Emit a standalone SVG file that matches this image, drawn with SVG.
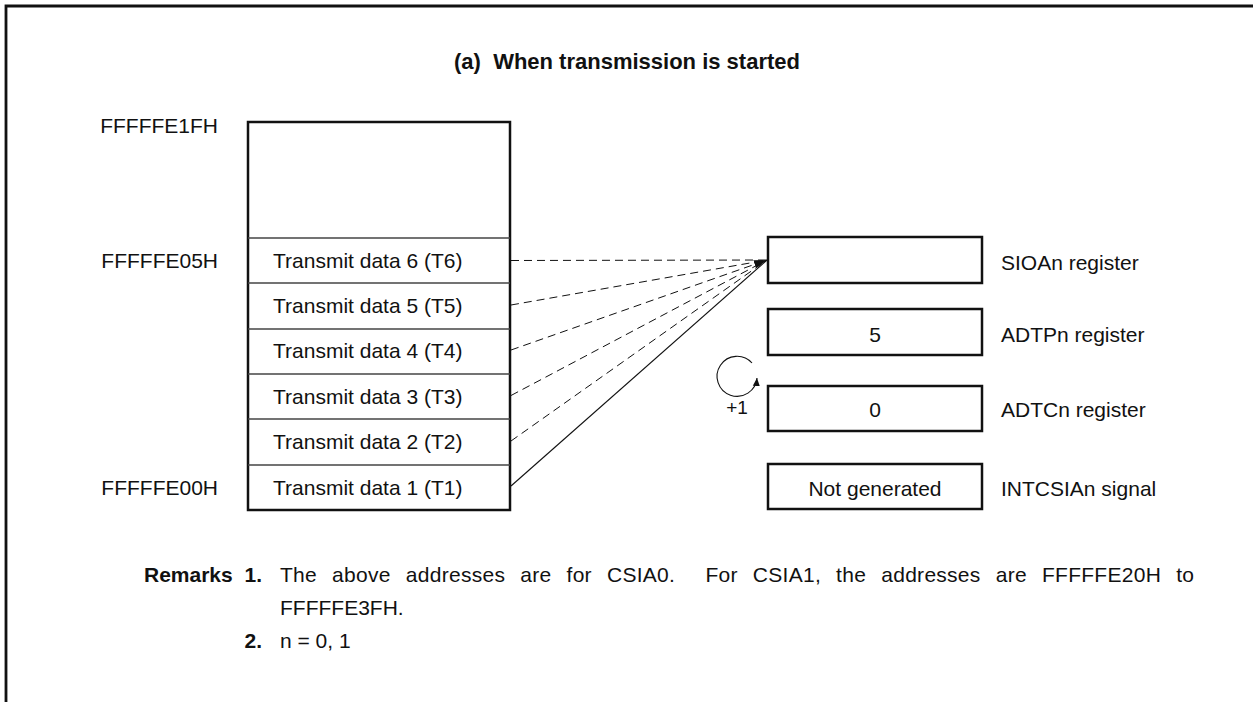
<svg xmlns="http://www.w3.org/2000/svg" width="1253" height="702" viewBox="0 0 1253 702">
<style>
text{font-family:"Liberation Sans",Arial,Helvetica,sans-serif;fill:#111}
.t{font-size:21px}
.r{font-size:21px}
.b{font-weight:bold}
.box{fill:#fff;stroke:#111;stroke-width:2.5}
.div{stroke:#444;stroke-width:1.3}
.dash{stroke:#111;stroke-width:1;stroke-dasharray:8,5;fill:none}
.solid{stroke:#111;stroke-width:1.1;fill:none}
</style>
<defs>
<marker id="ah" markerWidth="14" markerHeight="10" refX="13" refY="5" orient="auto" markerUnits="userSpaceOnUse">
<path d="M0,0.8 L13,5 L0,9.2 Z" fill="#111"/>
</marker>
<marker id="ah2" markerWidth="10" markerHeight="10" refX="8" refY="4" orient="auto" markerUnits="userSpaceOnUse">
<path d="M0,0.5 L8,4 L0,7.5 Z" fill="#111"/>
</marker>
</defs>
<rect width="1253" height="702" fill="#fff"/>
<path d="M6,702 V6 H1253" fill="none" stroke="#111" stroke-width="2.8"/>
<text class="b" x="627" y="69" text-anchor="middle" xml:space="preserve" style="font-size:22px">(a)  When transmission is started</text>

<g id="memory">
<rect class="box" x="248" y="122" width="262" height="388"/>
<line class="div" x1="248" y1="238" x2="510" y2="238"/>
<line class="div" x1="248" y1="283" x2="510" y2="283"/>
<line class="div" x1="248" y1="329" x2="510" y2="329"/>
<line class="div" x1="248" y1="374" x2="510" y2="374"/>
<line class="div" x1="248" y1="419" x2="510" y2="419"/>
<line class="div" x1="248" y1="465" x2="510" y2="465"/>
<text class="t" x="273" y="268">Transmit data 6 (T6)</text>
<text class="t" x="273" y="313">Transmit data 5 (T5)</text>
<text class="t" x="273" y="358">Transmit data 4 (T4)</text>
<text class="t" x="273" y="404">Transmit data 3 (T3)</text>
<text class="t" x="273" y="449">Transmit data 2 (T2)</text>
<text class="t" x="273" y="495">Transmit data 1 (T1)</text>
</g>
<g id="addresses">
<text class="t" x="218" y="133" text-anchor="end">FFFFFE1FH</text>
<text class="t" x="218" y="268" text-anchor="end">FFFFFE05H</text>
<text class="t" x="218" y="495" text-anchor="end">FFFFFE00H</text>
</g>

<g id="connectors">
<line class="dash" x1="511" y1="260.5" x2="767" y2="260"/>
<line class="dash" x1="511" y1="305" x2="767" y2="260"/>
<line class="dash" x1="511" y1="350" x2="767" y2="260" marker-end="url(#ah)"/>
<line class="dash" x1="511" y1="395.5" x2="767" y2="260"/>
<line class="dash" x1="511" y1="441" x2="767" y2="260"/>
<line class="solid" x1="511" y1="486" x2="767" y2="260"/>
</g>

<g id="sioa">
<rect class="box" x="768" y="237" width="214" height="46"/>
<text class="t" x="1001" y="270">SIOAn register</text>
</g>
<g id="adtp">
<rect class="box" x="768" y="309" width="214" height="46"/>
<text class="t" x="875" y="342" text-anchor="middle">5</text>
<text class="t" x="1001" y="342">ADTPn register</text>
</g>
<g id="adtc">
<rect class="box" x="768" y="386" width="214" height="45"/>
<text class="t" x="875" y="417" text-anchor="middle">0</text>
<text class="t" x="1001" y="417">ADTCn register</text>
</g>
<g id="counter">
<path d="M752,363 A20,20 0 1 0 757,378" fill="none" stroke="#111" stroke-width="1.1" marker-end="url(#ah2)"/>
<text x="737" y="414" text-anchor="middle" style="font-size:19px">+1</text>
</g>
<g id="intcsia">
<rect class="box" x="768" y="464" width="214" height="45"/>
<text class="t" x="875" y="496" text-anchor="middle">Not generated</text>
<text class="t" x="1001" y="496">INTCSIAn signal</text>
</g>

<g id="remarks">
<text class="r b" x="144" y="582">Remarks</text>
<text class="r b" x="262" y="582" text-anchor="end">1.</text>
<text class="r" x="280" y="582" xml:space="preserve" word-spacing="9" textLength="914" lengthAdjust="spacing">The above addresses are for CSIA0.  For CSIA1, the addresses are FFFFFE20H to</text>
<text class="r" x="280" y="615">FFFFFE3FH.</text>
<text class="r b" x="262" y="648" text-anchor="end">2.</text>
<text class="r" x="280" y="648">n = 0, 1</text>
</g>
</svg>
